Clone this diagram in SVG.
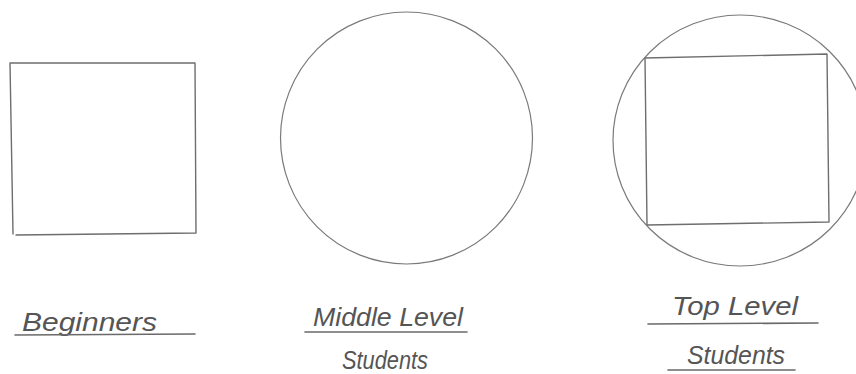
<svg xmlns="http://www.w3.org/2000/svg" width="856" height="374" viewBox="0 0 856 374">
<style>
.shape{fill:none;stroke:#6e6e6e;stroke-width:1.4;stroke-linecap:round;stroke-linejoin:round}
.circ{fill:none;stroke:#7a7a7a;stroke-width:1.2}
.ul{stroke:#6a6a6a;stroke-width:1.6;stroke-linecap:round}
.lbl{font-family:"Liberation Sans","DejaVu Sans",sans-serif;font-style:italic;font-size:25px;fill:#555}
</style>
<rect width="856" height="374" fill="#ffffff"/>
<g id="beginners">
<path class="shape" d="M10,63 L195,63 L196,233 M10,63 L13,234 M16,235 L196,233"/>
<text class="lbl" x="22" y="331" textLength="135" lengthAdjust="spacingAndGlyphs">Beginners</text>
<line class="ul" x1="15" y1="335" x2="195" y2="334"/>
</g>
<g id="middle-level">
<circle class="circ" cx="406.5" cy="138" r="126"/>
<text class="lbl" x="313" y="326" textLength="150" lengthAdjust="spacingAndGlyphs">Middle Level</text>
<line class="ul" x1="305" y1="332" x2="467" y2="332"/>
<text class="lbl" x="342" y="369" textLength="86" lengthAdjust="spacingAndGlyphs">Students</text>
</g>
<g id="top-level">
<ellipse class="circ" cx="740" cy="140.5" rx="127" ry="125.5"/>
<path class="shape" d="M645,58 L827,54 L829,222 L647,225 Z"/>
<text class="lbl" x="672" y="315" textLength="126" lengthAdjust="spacingAndGlyphs">Top Level</text>
<line class="ul" x1="648" y1="324" x2="818" y2="323"/>
<text class="lbl" x="687" y="364" textLength="98" lengthAdjust="spacingAndGlyphs">Students</text>
<line class="ul" x1="668" y1="370" x2="795" y2="370"/>
</g>
</svg>
